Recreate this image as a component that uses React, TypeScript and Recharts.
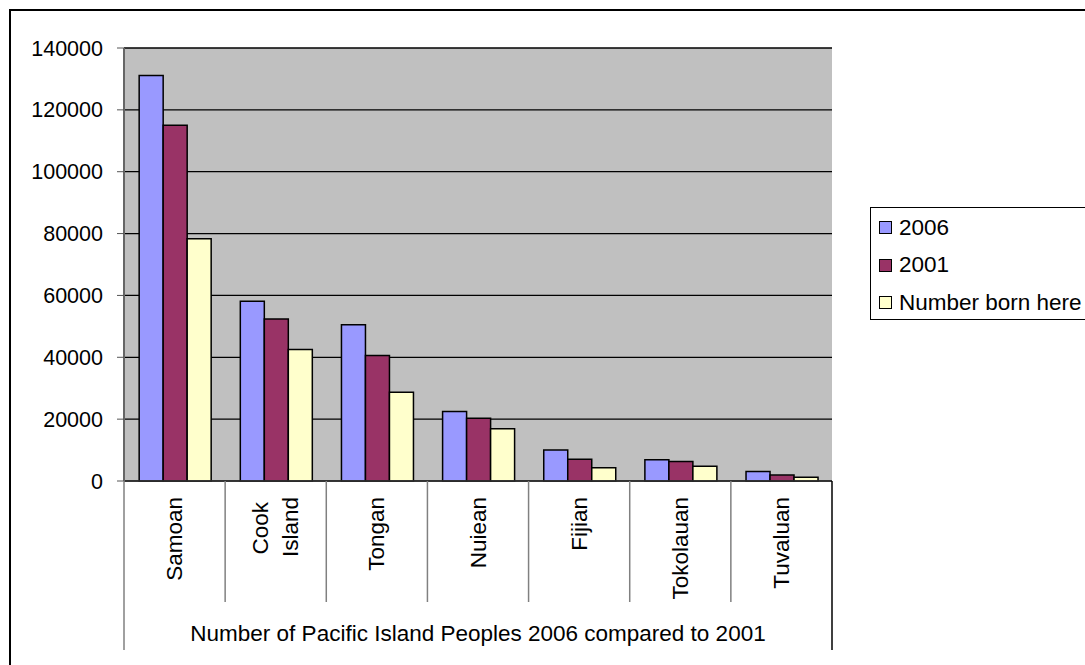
import { BarChart, Bar, XAxis, YAxis, CartesianGrid } from 'recharts';

const categories = ['Samoan', 'Cook Island', 'Tongan', 'Nuiean', 'Fijian', 'Tokolauan', 'Tuvaluan'];
const y2006 = [131100, 58100, 50500, 22500, 10000, 6900, 3100];
const y2001 = [115000, 52400, 40600, 20300, 7000, 6300, 1900];
const bornHere = [78300, 42500, 28700, 16900, 4300, 4800, 1200];
const yTicks = [0, 20000, 40000, 60000, 80000, 100000, 120000, 140000];

const seriesNames = ['2006', '2001', 'Number born here'];
const seriesColors = ['#9999FF', '#993366', '#FFFFCC'];

const data = categories.map((name, i) => ({
  name,
  y2006: y2006[i],
  y2001: y2001[i],
  born: bornHere[i],
}));

const W = 1085;
const H = 665;
const PLOT_LEFT = 124;
const PLOT_RIGHT = 832;
const PLOT_TOP = 48;
const PLOT_BOTTOM = 481;
const HALF_BAND = (PLOT_RIGHT - PLOT_LEFT) / categories.length / 2;
const FONT = '"Liberation Sans", Arial, sans-serif';

function CategoryTick(props: any) {
  const { x, payload, index } = props;
  const label: string = payload.value;
  const lines = label === 'Cook Island' ? ['Cook', 'Island'] : [label];
  const top = 497;
  const last = index === categories.length - 1;
  return (
    <g>
      <line
        x1={x - HALF_BAND}
        x2={x - HALF_BAND}
        y1={PLOT_BOTTOM}
        y2={index === 0 ? 650 : 602}
        stroke="#808080"
        strokeWidth={1.5}
      />
      {last && (
        <line x1={x + HALF_BAND} x2={x + HALF_BAND} y1={PLOT_BOTTOM} y2={650} stroke="#000" strokeWidth={1.5} />
      )}
      {lines.map((t, k) => {
        const cx = x + (lines.length === 1 ? 0 : k === 0 ? -15 : 15);
        const ty = lines.length === 1 ? top : top + (k === 0 ? 5 : 0);
        return (
          <text
            key={t}
            x={cx}
            y={ty}
            transform={`rotate(-90, ${cx}, ${ty})`}
            textAnchor="end"
            dominantBaseline="central"
            fontSize={22.5}
            fontFamily={FONT}
            fill="#000"
          >
            {t}
          </text>
        );
      })}
    </g>
  );
}

function LegendBox() {
  return (
    <div
      style={{
        position: 'absolute',
        left: 870,
        top: 207,
        border: '1.5px solid #000',
        width: 240,
        height: 113,
        background: '#fff',
        fontFamily: FONT,
        fontSize: 22.5,
        boxSizing: 'border-box',
        paddingTop: 1,
      }}
    >
      {seriesNames.map((n, i) => (
        <div key={n} style={{ display: 'flex', alignItems: 'center', height: 37.5 }}>
          <span
            style={{
              display: 'inline-block',
              width: 11,
              height: 11,
              marginLeft: 8,
              marginRight: 7,
              background: seriesColors[i],
              border: '1.5px solid #000',
            }}
          />
          <span>{n}</span>
        </div>
      ))}
    </div>
  );
}

export default function App() {
  return (
    <div style={{ position: 'absolute', left: 0, top: 0, width: W, height: H, overflow: 'hidden', background: '#fff' }}>
      <div
        style={{
          position: 'absolute',
          left: 9,
          top: 9,
          width: 1200,
          height: 800,
          border: '2px solid #000',
          boxSizing: 'border-box',
        }}
      />
      <div style={{ position: 'absolute', left: 0, top: 0 }}>
        <BarChart
          width={W}
          height={H}
          data={data}
          margin={{ top: PLOT_TOP, right: W - PLOT_RIGHT, left: 0, bottom: 0 }}
          barCategoryGap="15%"
          barGap={0}
          style={{ fontFamily: FONT }}
        >
          <CartesianGrid
            vertical={false}
            horizontalValues={yTicks}
            stroke="#000"
            strokeWidth={1.3}
            fill="#C0C0C0"
            fillOpacity={1}
          />
          <XAxis
            dataKey="name"
            interval={0}
            height={H - PLOT_BOTTOM}
            tickLine={false}
            axisLine={{ stroke: '#333', strokeWidth: 1.5 }}
            tick={<CategoryTick />}
            label={{
              value: 'Number of Pacific Island Peoples 2006 compared to 2001',
              position: 'insideBottom',
              offset: 24,
              fontSize: 22.5,
              fill: '#000',
              fontFamily: FONT,
            }}
          />
          <YAxis
            width={PLOT_LEFT}
            domain={[0, 140000]}
            ticks={yTicks}
            interval={0}
            tickSize={7}
            tickMargin={14}
            tickLine={{ stroke: '#555' }}
            axisLine={{ stroke: '#666', strokeWidth: 2 }}
            tick={{ fill: '#000', fontSize: 21.5, fontFamily: FONT }}
          />
          <Bar dataKey="y2006" name={seriesNames[0]} fill={seriesColors[0]} stroke="#000" strokeWidth={1.5} isAnimationActive={false} />
          <Bar dataKey="y2001" name={seriesNames[1]} fill={seriesColors[1]} stroke="#000" strokeWidth={1.5} isAnimationActive={false} />
          <Bar dataKey="born" name={seriesNames[2]} fill={seriesColors[2]} stroke="#000" strokeWidth={1.5} isAnimationActive={false} />
        </BarChart>
      </div>
      <LegendBox />
    </div>
  );
}
